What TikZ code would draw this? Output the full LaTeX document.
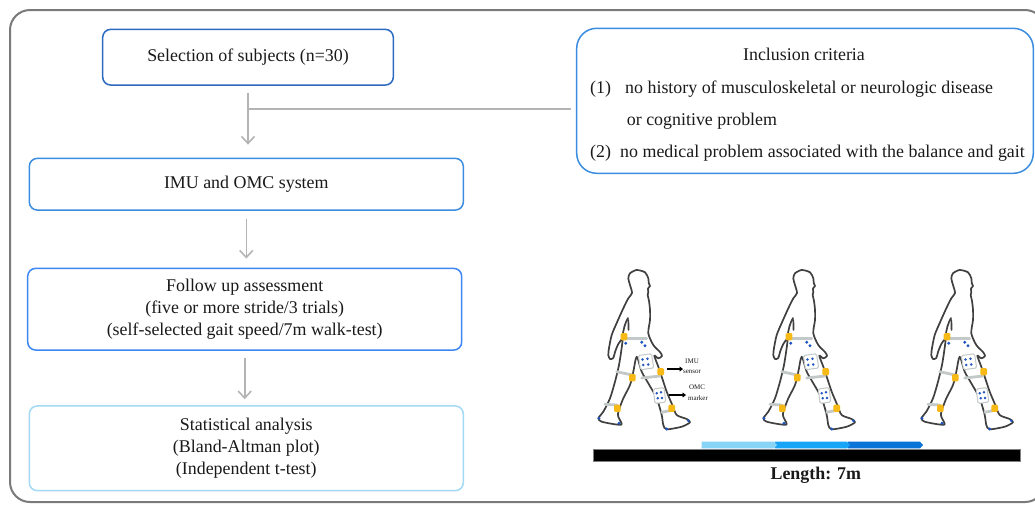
\documentclass[tikz,border=0pt]{standalone}
\usepackage{fontspec}
\setmainfont{Liberation Serif}
\usetikzlibrary{arrows.meta,calc}
\definecolor{framegray}{HTML}{7A7A7A}
\definecolor{arrowgray}{HTML}{B4B4B4}
\definecolor{boxA}{HTML}{2D6BC0}
\definecolor{boxB}{HTML}{3B8DE0}
\definecolor{boxC}{HTML}{3D87F5}
\definecolor{boxD}{HTML}{A2DAF5}
\definecolor{bodygray}{HTML}{404040}
\definecolor{sensyellow}{HTML}{F7B916}
\definecolor{dotblue}{HTML}{1F55C0}
\definecolor{bandgray}{HTML}{C3C8C8}
\definecolor{chevA}{HTML}{87D4F7}
\definecolor{chevB}{HTML}{17A5F7}
\definecolor{chevC}{HTML}{0A74D8}
\definecolor{txtcol}{HTML}{1A1A1A}
\tikzset{
  flow/.style={draw, rounded corners=8pt, line width=1.5pt, align=center, text=txtcol,
    font=\fontsize{17.9}{21.7}\selectfont, inner sep=0pt},
  txt/.style={text=txtcol, font=\fontsize{17.9}{21}\selectfont, inner sep=0pt},
  smalltxt/.style={text=txtcol, font=\fontsize{7}{8}\selectfont, inner sep=0pt},
  conn/.style={draw=arrowgray, line width=1.6pt, -{Straight Barb[length=7pt,width=13pt]}},
  plainline/.style={draw=arrowgray, line width=1.6pt},
  body/.style={draw=bodygray, line width=1.7pt, line join=round, line cap=round},
  band/.style={draw=bandgray, line width=2.8pt, line cap=round},
  plate/.style={draw=bandgray, fill=white, line width=1pt, rounded corners=1.5pt},
  sens/.style={fill=sensyellow, rounded corners=1.2pt},
  bdot/.style={fill=dotblue},
  pics/walker/.style={code={
    \draw[body, fill=white] plot[smooth cycle, tension=0.45] coordinates {
      (41.7,5) (50,7.3) (53.3,13.3) (53.7,18) (55,21) (53,23.5) (53.3,27) (52.7,30)
      (54,36) (55,45) (55,55) (53.3,68.3) (58.3,80) (65,87) (67,91) (63.3,93.3)
      (59.3,90.7) (63.3,101.7) (66.7,111.7) (71.7,126.7) (77.3,140) (81.7,150)
      (91.7,154) (95,157.3) (86.7,161.7) (71.7,164.3) (68.3,160) (66.7,150)
      (61.7,133.3) (53.3,118.3) (46.7,106.7) (41.7,91.7) (38.3,106.7) (35,120)
      (28.3,133.3) (23.3,146.7) (23.3,151.7) (26.7,159.3) (20,159.3) (6.7,156.7)
      (3.3,153.3) (8.3,146.7) (15,133.3) (20,116.7) (24,100) (26.5,84) (27.5,74)
      (23.3,79) (20,87) (18.3,93) (15,94) (13.3,90) (14,83) (16.7,70) (21.7,58)
      (28.3,43.3) (33.3,33.3) (37,28) (35,20) (33.3,13.3) (35,8.3)};
    \draw[body] (33,53) .. controls (30,58) and (28,65) .. (27.5,73);
    \draw[body] (33.3,55) -- (33.6,65);
    \draw[band] (30,73.3) -- (51.7,73.3);
    \draw[band] (21.7,106.7) -- (37.3,110);
    \draw[band] (46.7,113) -- (65,111);
    \draw[band] (66.7,147.3) -- (78.3,145);
    \draw[band] (10,139.3) -- (21.7,140);
    \draw[plate] (43.3,90.5) -- (56.5,88.7) -- (58.7,103) -- (45.5,104.7) -- cycle;
    \draw[plate] (58.3,124) -- (69,122.5) -- (70.8,137) -- (60,138.5) -- cycle;
    \foreach \px/\py in {47.5/94.5,52.5/93.8,48.3/100,53.3/99.5,61.7/128.3,66/127.3,62.7/133.3,66.9/133}
      {\fill[bdot] (\px,\py) circle (1.4);}
    \foreach \px/\py in {29/71.7,65.7/106.7,37.3/112.7,76.7/143.3,22.3/143.3}
      {\fill[sens] (\px-3.3,\py-3.6) rectangle (\px+3.3,\py+3.6);}
    \foreach \px/\py in {30.7/78.3,46.7/77.3,50/80.7,4/153.3,24/158.3,71.7/164,93.3/155.7}
      {\fill[bdot] (\px,\py) circle (1.6);}
  }}
}
\begin{document}
\begin{tikzpicture}[x=1pt,y=-1pt]
\useasboundingbox (0,0) rectangle (1035,504);
\fill[white] (0,0) rectangle (1035,504);
% outer frame
\draw[framegray, line width=2pt, rounded corners=20pt] (10,10) rectangle (1045,502);
% flow boxes
\node[flow, draw=boxA, minimum width=290.6pt, minimum height=55.7pt] (sel) at (248,57.2) {Selection of subjects (n=30)};
\node[flow, draw=boxB, minimum width=434pt, minimum height=51.7pt] (imu) at (246.3,184.2) {IMU and OMC system};
\node[flow, draw=boxC, minimum width=434pt, minimum height=81.7pt] (fol) at (244.7,309.2)
  {Follow up assessment\\(five or more stride/3 trials)\\(self-selected gait speed/7m walk-test)};
\node[flow, draw=boxD, minimum width=434pt, minimum height=84.7pt] (sta) at (246.3,448.3)
  {Statistical analysis\\(Bland-Altman plot)\\(Independent t-test)};
% inclusion criteria box
\node[draw=boxB, line width=1.5pt, rounded corners=20pt, minimum width=456.6pt, minimum height=145pt, inner sep=0pt] (inc) at (805,100.8) {};
\node[txt, anchor=base] (inct) at (804,60.5) {Inclusion criteria};
\node[txt, anchor=base west] (c1n) at (590,93.5) {(1)};
\node[txt, anchor=base west] (c1a) at (625,93.5) {no history of musculoskeletal or neurologic disease};
\node[txt, anchor=base west] (c1b) at (626.7,125) {or cognitive problem};
\node[txt, anchor=base west] (c2n) at (590,157.5) {(2)};
\node[txt, anchor=base west] (c2a) at (620,157.5) {no medical problem associated with the balance and gait};
% connectors
\draw[conn, shorten <=7pt, shorten >=13pt] (sel.south) -- (sel.south |- imu.north);
\coordinate (jn) at ($(sel.south)+(0,23.3)$);
\draw[plainline, shorten >=5pt] (jn) -- (jn -| inc.west);
\draw[conn, shorten <=8pt, shorten >=9pt] (imu.south) -- (imu.south |- fol.north);
\draw[conn, shorten <=7pt, shorten >=6pt] (fol.south) -- (fol.south |- sta.north);
% walkers
\pic (w1) at (595,265) {walker};
\pic (w2) at (760,265) {walker};
\pic (w3) at (918,265) {walker};
% labels on first walker
\coordinate (a1s) at (667,369);
\coordinate (a1e) at (683,369);
\coordinate (a2s) at (669,395);
\coordinate (a2e) at (686,395);
\draw[line width=2pt, -{Triangle[length=3.5pt,width=5pt]}] (a1s) -- (a1e);
\draw[line width=2pt, -{Triangle[length=3.5pt,width=5pt]}] (a2s) -- (a2e);
\node[smalltxt] (imul) at (692,361) {IMU};
\node[smalltxt] (sensl) at (692,372) {sensor};
\node[smalltxt] (omcl) at (697,387.5) {OMC};
\node[smalltxt] (markl) at (698,398) {marker};
% walkway
\fill[chevC] (848,441.7) -- (920,441.7) -- (923,445) -- (920,448.3) -- (848,448.3) -- cycle;
\fill[chevB] (775,441.7) -- (847,441.7) -- (850,445) -- (847,448.3) -- (775,448.3) -- cycle;
\fill[chevA] (701.7,441.7) -- (774,441.7) -- (777,445) -- (774,448.3) -- (701.7,448.3) -- cycle;
\node[draw=gray, fill=black, line width=0.6pt, minimum width=426.7pt, minimum height=12.4pt, inner sep=0pt] (walkway) at (806.7,455.5) {};
\node[txt, font=\fontsize{17.9}{21}\selectfont\bfseries, anchor=base] (len) at (815.8,479) {Length: 7m};
\end{tikzpicture}
\end{document}
